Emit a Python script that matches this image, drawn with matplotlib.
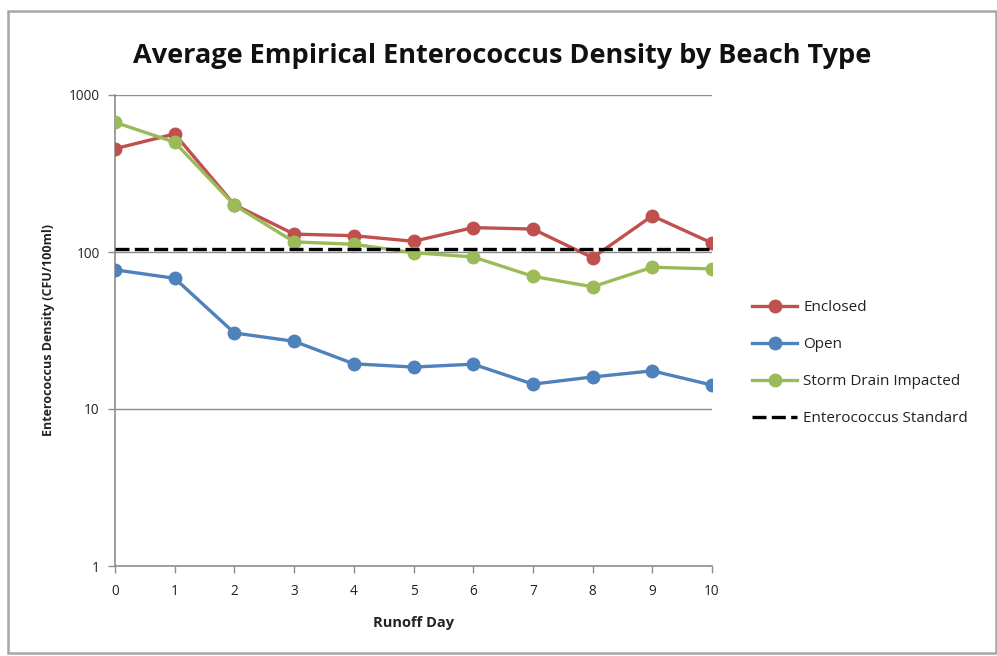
import matplotlib
matplotlib.use("Agg")
import matplotlib.pyplot as plt
from matplotlib.patches import Rectangle

days = [0, 1, 2, 3, 4, 5, 6, 7, 8, 9, 10]
enclosed = [455, 565, 200, 130, 127, 117, 143, 140, 92, 170, 114]
open_beach = [77, 68, 30.5, 27, 19.4, 18.5, 19.3, 14.4, 16, 17.5, 14.2]
storm_drain = [670, 500, 199, 116, 112, 99, 93, 70, 60, 80, 78]
standard = [104] * len(days)
y_ticks = [1, 10, 100, 1000]
y_tick_labels = ["1", "10", "100", "1000"]

plt.rcParams['font.family'] = ['Open Sans', 'DejaVu Sans']

fig = plt.figure(figsize=(9.97, 6.56), dpi=100)
fig.patches.append(Rectangle((8 / 997, 1 - 653 / 656), 988 / 997, 642 / 656,
                             transform=fig.transFigure, fill=False,
                             edgecolor="#a6a6a6", linewidth=1.8))
ax = fig.add_axes([115 / 997, 1 - 566 / 656, 597 / 997, 471 / 656])

ax.set_yscale("log")
ax.set_ylim(1, 1000)
ax.set_xlim(0, 10)

for v in y_ticks[1:]:
    ax.axhline(v, color="#8c8c8c", linewidth=1.0, zorder=1)

lw = 2.4
ms = 9
ax.plot(days, enclosed, color="#C0504D", marker="o", markersize=ms, linewidth=lw, label="Enclosed", zorder=3)
ax.plot(days, open_beach, color="#4F81BD", marker="o", markersize=ms, linewidth=lw, label="Open", zorder=3)
ax.plot(days, storm_drain, color="#9BBB59", marker="o", markersize=ms, linewidth=lw, label="Storm Drain Impacted", zorder=3)
ax.plot(days, standard, color="black", linestyle=(0, (4.2, 1.6)), linewidth=2.4, label="Enterococcus Standard", zorder=4)

ax.set_yticks(y_ticks)
ax.set_yticklabels(y_tick_labels)
ax.yaxis.set_minor_locator(matplotlib.ticker.NullLocator())
ax.set_xticks(days)
ax.set_xticklabels([str(d) for d in days])

for s in ["top", "right"]:
    ax.spines[s].set_visible(False)
for s in ["left", "bottom"]:
    ax.spines[s].set_color("#8c8c8c")
    ax.spines[s].set_linewidth(1.2)
ax.tick_params(axis="both", colors="#8c8c8c", labelcolor="#222222", labelsize=9.8, length=5, width=1)
ax.tick_params(axis="x", pad=8)
ax.tick_params(axis="y", pad=6)

ax.set_xlabel("Runoff Day", fontsize=10.5, fontweight="bold", labelpad=12, color="#222222")
ax.set_ylabel("Enterococcus Density (CFU/100ml)", fontsize=9, fontweight="bold", labelpad=10, color="#222222")

fig.text(502 / 997, 1 - 56 / 656, "Average Empirical Enterococcus Density by Beach Type",
         ha="center", va="center", fontsize=19.5, fontweight="bold", color="#111111")

leg = ax.legend(loc="center left", bbox_to_anchor=(752 / 997, 1 - 363 / 656),
                bbox_transform=fig.transFigure, frameon=False, fontsize=11,
                handlelength=2.95, handletextpad=0.4, labelspacing=1.44, borderaxespad=0,
                borderpad=0)
for t in leg.get_texts():
    t.set_color("#222222")

fig.savefig("out.png", dpi=100)
